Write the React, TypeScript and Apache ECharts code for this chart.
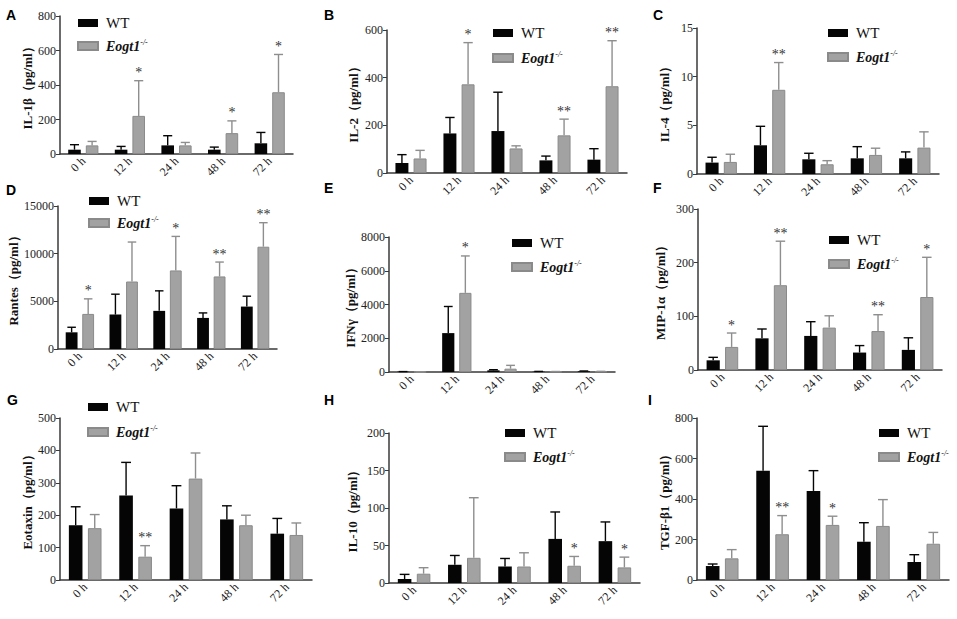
import React, { useEffect, useRef } from "react";
import * as echarts from "echarts";

const categories = ["0 h", "12 h", "24 h", "48 h", "72 h"];

// A IL-1β
const aWT = [25, 25, 50, 25, 62];
const aWTsd = [29, 19, 56, 15, 63];
const aKO = [50, 221, 50, 121, 358];
const aKOsd = [23, 204, 17, 71, 219];
const aStars = ["", "*", "", "*", "*"];
// B IL-2
const bWT = [42, 166, 176, 53, 56];
const bWTsd = [35, 67, 163, 18, 46];
const bKO = [61, 372, 103, 158, 364];
const bKOsd = [34, 175, 11, 68, 191];
const bStars = ["", "*", "", "**", "**"];
// C IL-4
const cWT = [1.17, 2.95, 1.51, 1.61, 1.61];
const cWTsd = [0.55, 1.95, 0.62, 1.2, 0.66];
const cKO = [1.24, 8.65, 1.0, 1.96, 2.71];
const cKOsd = [0.79, 2.8, 0.37, 0.69, 1.62];
const cStars = ["", "**", "", "", ""];
// D Rantes
const dWT = [1750, 3610, 4000, 3260, 4450];
const dWTsd = [530, 2140, 2100, 525, 1090];
const dKO = [3680, 7080, 8240, 7610, 10730];
const dKOsd = [1580, 4140, 3570, 1510, 2520];
const dStars = ["*", "", "*", "**", "**"];
// E IFNγ
const eWT = [15, 2305, 98, 20, 40];
const eWTsd = [10, 1577, 40, 15, 20];
const eKO = [5, 4690, 197, 20, 30];
const eKOsd = [5, 2187, 197, 10, 10];
const eStars = ["", "*", "", "", ""];
// F MIP-1α
const fWT = [18, 59, 63.5, 32.5, 37.5];
const fWTsd = [5.6, 17.4, 26.5, 13, 22.5];
const fKO = [43, 158, 79, 72.6, 136];
const fKOsd = [25.9, 82, 22, 30.4, 74];
const fStars = ["*", "**", "", "**", "*"];
// G Eotaxin
const gWT = [169, 261, 221, 187, 143];
const gWTsd = [57, 102, 70, 42, 47];
const gKO = [160, 72, 313, 169, 139];
const gKOsd = [42, 34, 79, 31, 37];
const gStars = ["", "**", "", "", ""];
// H IL-10
const hWT = [5.3, 24.3, 22, 58.8, 55.8];
const hWTsd = [6.2, 12.4, 10.7, 35.9, 25.6];
const hKO = [12.4, 33.6, 22, 23, 20.8];
const hKOsd = [8, 80.1, 18.3, 12.4, 13.7];
const hStars = ["", "", "", "*", "*"];
// I TGF-β1
const iWT = [69, 540, 440, 189, 89];
const iWTsd = [10, 219, 100, 94, 36];
const iKO = [107, 226, 272, 267, 179];
const iKOsd = [43, 92, 43, 130, 56];
const iStars = ["", "**", "*", "", ""];

const yNames = [
  "IL-1β（pg/ml）",
  "IL-2（pg/ml）",
  "IL-4（pg/ml）",
  "Rantes（pg/ml）",
  "IFNγ（pg/ml）",
  "MIP-1α（pg/ml）",
  "Eotaxin（pg/ml）",
  "IL-10（pg/ml）",
  "TGF-β1（pg/ml）",
];
const yMax = [800, 600, 15, 15000, 8000, 300, 500, 200, 800];
const yInterval = [200, 200, 5, 5000, 2000, 100, 100, 50, 200];
const letters = ["A", "B", "C", "D", "E", "F", "G", "H", "I"];

const panels = [
  [aWT, aWTsd, aKO, aKOsd, aStars],
  [bWT, bWTsd, bKO, bKOsd, bStars],
  [cWT, cWTsd, cKO, cKOsd, cStars],
  [dWT, dWTsd, dKO, dKOsd, dStars],
  [eWT, eWTsd, eKO, eKOsd, eStars],
  [fWT, fWTsd, fKO, fKOsd, fStars],
  [gWT, gWTsd, gKO, gKOsd, gStars],
  [hWT, hWTsd, hKO, hKOsd, hStars],
  [iWT, iWTsd, iKO, iKOsd, iStars],
] as any[];

// layout: [left, top, right edge, zero line y, nameGap, legendLeft, legendFirstCenterY, legendSpacing, letterX, letterY]
const layout = [
  [60, 16, 293, 154, 26, 77, 23, 23, 6, 8],
  [387, 30, 627, 173, 27, 492, 33, 25, 324, 8],
  [697, 28, 939, 174, 26, 827, 33, 24, 653, 8],
  [58, 206, 277, 349, 37, 88, 201, 22, 6, 183],
  [389, 237, 615, 372, 31, 511, 243, 24, 324, 181],
  [698, 209, 942, 370, 31, 828, 240, 24, 653, 181],
  [60, 418, 312, 580, 26, 87, 407, 25, 7, 393],
  [389, 433, 640, 583, 30, 504, 433, 24, 324, 393],
  [697, 418, 949, 580, 23, 878, 433, 24, 648, 393],
];

const SERIF = "'Times New Roman', 'Liberation Serif', serif";
const BW = 0.27;
const GAP = 0.4;
const WT_COLOR = "#050505";
const KO_COLOR = "#a2a2a2";
const KO_ERR = "#8e8e8e";
const STAR_COLOR = "#333333";

export default function App() {
  const ref = useRef<HTMLDivElement>(null);
  useEffect(() => {
    if (!ref.current) return;
    const chart = echarts.init(ref.current, undefined, { renderer: "svg" });
    const grid: any[] = [];
    const xAxis: any[] = [];
    const yAxis: any[] = [];
    const series: any[] = [];
    const legend: any[] = [];
    const graphic: any[] = [];
    panels.forEach((p: any[], k: number) => {
      const [wt, wtSd, ko, koSd, stars] = p;
      const L = layout[k];
      grid.push({
        left: L[0],
        top: L[1],
        width: L[2] - L[0],
        height: L[3] - L[1],
        outerBoundsMode: "none",
        containLabel: false,
      });
      xAxis.push({
        type: "category",
        gridIndex: k,
        data: categories,
        axisLine: { lineStyle: { color: "#3a3a3a", width: 1.5 } },
        axisTick: { alignWithLabel: true, length: 4, lineStyle: { color: "#3a3a3a" } },
        axisLabel: {
          rotate: 45,
          fontSize: 12,
          margin: 5,
          color: "#222",
          fontFamily: SERIF,
          interval: 0,
        },
      });
      yAxis.push({
        type: "value",
        gridIndex: k,
        min: 0,
        max: yMax[k],
        interval: yInterval[k],
        name: yNames[k],
        nameLocation: "middle",
        nameGap: L[4],
        nameTextStyle: {
          fontWeight: "bold",
          fontSize: 13,
          fontFamily: SERIF,
          color: "#111",
        },
        axisLine: { show: true, lineStyle: { color: "#3a3a3a", width: 1.5 } },
        axisTick: { show: true, length: 4, lineStyle: { color: "#3a3a3a" } },
        splitLine: { show: false },
        axisLabel: {
          fontSize: 12,
          margin: 4,
          color: "#222",
          fontFamily: SERIF,
          formatter: (v: number) => String(v),
        },
      });
      series.push({
        type: "bar",
        name: "WT",
        xAxisIndex: k,
        yAxisIndex: k,
        data: wt,
        barWidth: BW * 100 + "%",
        barGap: GAP * 100 + "%",
        itemStyle: { color: WT_COLOR },
      });
      series.push({
        type: "bar",
        name: "Eogt1",
        xAxisIndex: k,
        yAxisIndex: k,
        data: ko,
        barWidth: BW * 100 + "%",
        barGap: GAP * 100 + "%",
        itemStyle: { color: KO_COLOR, borderColor: "#8a8a8a", borderWidth: 1 },
      });
      const errData = categories.map((_, i) => [i, wt[i], wtSd[i], ko[i], koSd[i]]);
      series.push({
        type: "custom",
        xAxisIndex: k,
        yAxisIndex: k,
        clip: false,
        z: 5,
        silent: true,
        itemStyle: { color: STAR_COLOR },
        encode: { x: 0, y: [1, 3] },
        data: errData,
        renderItem: (params: any, api: any) => {
          const i = api.value(0);
          const base = api.coord([i, 0]);
          const band = api.size([1, 0])[0];
          const bw = band * BW;
          const off = (bw + bw * GAP) / 2;
          const cap = Math.max(4, bw * 0.36);
          const children: any[] = [];
          const items = [
            [api.value(1), api.value(2), -off, WT_COLOR],
            [api.value(3), api.value(4), off, KO_ERR],
          ];
          let koTop = 0;
          items.forEach((it: any, s: number) => {
            const x = base[0] + it[2];
            const y0 = api.coord([i, it[0]])[1];
            const y1 = api.coord([i, it[0] + it[1]])[1];
            if (s === 1) koTop = y1;
            children.push({
              type: "line",
              shape: { x1: x, y1: y0, x2: x, y2: y1 },
              style: { stroke: it[3], lineWidth: 1.4 },
            });
            children.push({
              type: "line",
              shape: { x1: x - cap, y1: y1, x2: x + cap, y2: y1 },
              style: { stroke: it[3], lineWidth: 1.4 },
            });
          });
          const st = stars[i];
          if (st) {
            children.push({
              type: "text",
              style: {
                text: st,
                x: base[0] + off,
                y: koTop - 1,
                align: "center",
                verticalAlign: "bottom",
                fontSize: 14,
                fontFamily: SERIF,
                fill: STAR_COLOR,
              },
            });
          }
          return { type: "group", children };
        },
      });
      legend.push({
        left: L[5],
        top: L[6] - 8,
        padding: 0,
        orient: "vertical",
        selectedMode: false,
        itemWidth: 20,
        itemHeight: 8,
        itemGap: L[7] - 16,
        icon: "rect",
        data: ["WT", "Eogt1"],
        formatter: (name: string) =>
          name === "Eogt1" ? "{i|Eogt1}{s|-/-}" : "{n|WT}",
        textStyle: {
          lineHeight: 16,
          padding: [0, 0, 0, 3],
          rich: {
            n: { fontSize: 15, fontFamily: SERIF, color: "#111", lineHeight: 16 },
            i: {
              fontSize: 14,
              fontFamily: SERIF,
              fontStyle: "italic",
              fontWeight: "bold",
              color: "#111",
              lineHeight: 16,
            },
            s: {
              fontSize: 8,
              fontFamily: SERIF,
              fontStyle: "italic",
              color: "#111",
              verticalAlign: "top",
              lineHeight: 16,
            },
          },
        },
      });
      graphic.push({
        type: "text",
        left: L[8],
        top: L[9],
        style: {
          text: letters[k],
          fontSize: 14,
          fontWeight: "bold",
          fontFamily: "Arial, 'Liberation Sans', sans-serif",
          fill: "#000",
        },
      });
    });
    chart.setOption({
      animation: false,
      backgroundColor: "#fff",
      grid,
      xAxis,
      yAxis,
      series,
      legend,
      graphic,
    });
    return () => chart.dispose();
  }, []);
  return (
    <div
      ref={ref}
      style={{ position: "absolute", left: 0, top: 0, width: 957, height: 619 }}
    />
  );
}
